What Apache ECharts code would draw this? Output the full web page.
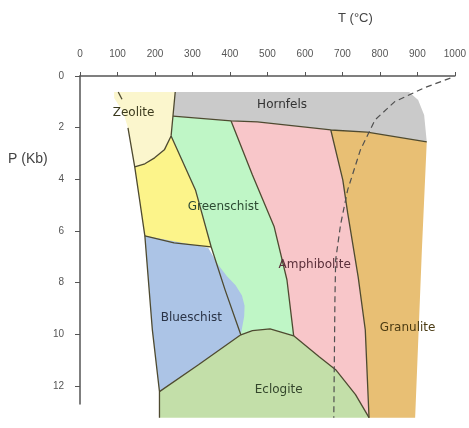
<!DOCTYPE html>
<html>
<head>
<meta charset="utf-8">
<script src="https://cdn.jsdelivr.net/npm/echarts@6/dist/echarts.min.js"></script>
<style>
  html, body { margin: 0; padding: 0; background: #fff; }
  #chart { width: 469px; height: 428px; }
</style>
</head>
<body>
<div id="chart"></div>
<script>
// axis ticks
const tTicks = [0, 100, 200, 300, 400, 500, 600, 700, 800, 900, 1000];
const pTicks = [0, 2, 4, 6, 8, 10, 12];

// facies fields, [T (°C), P (Kb)]
const zeolite = [[91, 0.62], [254, 0.62], [248, 1.55], [243, 2.32], [225, 2.86], [199, 3.17], [173, 3.4], [146, 3.52], [128, 2.01], [115, 1.39], [91, 0.85]];
const hornfels = [[254, 0.62], [878, 0.62], [902, 0.93], [918, 1.51], [925, 2.55], [766, 2.17], [669, 2.09], [473, 1.78], [403, 1.74], [248, 1.55]];
const prehnite = [[243, 2.32], [308, 4.41], [350, 6.62], [342, 6.65], [251, 6.46], [173, 6.19], [159, 4.8], [146, 3.52], [173, 3.4], [199, 3.17], [225, 2.86]];
const greenschist = [[248, 1.55], [403, 1.74], [460, 3.83], [518, 5.84], [552, 7.89], [570, 10.06], [507, 9.79], [460, 9.86], [429, 10.02], [387, 8.28], [350, 6.62], [308, 4.41], [243, 2.32]];
const blueschist = [[173, 6.19], [342, 6.65], [352, 6.9], [368, 7.3], [392, 7.75], [415, 8.1], [432, 8.5], [439, 8.9], [438, 9.3], [433, 9.7], [429, 10.02], [316, 11.18], [212, 12.22], [193, 9.83]];
const amphibolite = [[403, 1.74], [473, 1.78], [669, 2.09], [701, 4.02], [714, 5.3], [742, 7.78], [761, 9.83], [771, 13.23], [735, 12.34], [682, 11.37], [638, 10.87], [570, 10.06], [552, 7.89], [518, 5.84], [460, 3.83]];
const granulite = [[669, 2.09], [766, 2.17], [925, 2.55], [912, 6.73], [894, 13.23], [771, 13.23], [761, 9.83], [742, 7.78], [714, 5.3], [701, 4.02]];
const eclogite = [[212, 12.22], [316, 11.18], [429, 10.02], [460, 9.86], [507, 9.79], [570, 10.06], [638, 10.87], [682, 11.37], [735, 12.34], [771, 13.23], [212, 13.23]];

// boundary lines
const westLine = [[128, 2.01], [146, 3.52], [159, 4.8], [173, 6.19], [193, 9.83], [212, 12.22], [212, 13.23]];
const zeoTick = [[102, 0.62], [112, 0.9]];
const zeoArc = [[146, 3.52], [173, 3.4], [199, 3.17], [225, 2.86], [243, 2.32]];
const hornfelsWest = [[254, 0.62], [248, 1.55], [243, 2.32]];
const hornfelsBase = [[248, 1.55], [403, 1.74], [473, 1.78], [669, 2.09], [766, 2.17], [925, 2.55]];
const greenYellow = [[243, 2.32], [308, 4.41], [350, 6.62], [387, 8.28], [429, 10.02]];
const yellowBlue = [[173, 6.19], [251, 6.46], [350, 6.62]];
const blueEclogite = [[212, 12.22], [316, 11.18], [429, 10.02]];
const eclogiteArc = [[429, 10.02], [460, 9.86], [507, 9.79], [570, 10.06], [638, 10.87], [682, 11.37], [735, 12.34], [771, 13.23]];
const greenPink = [[403, 1.74], [460, 3.83], [518, 5.84], [552, 7.89], [570, 10.06]];
const pinkGranulite = [[669, 2.09], [701, 4.02], [714, 5.3], [742, 7.78], [761, 9.83], [771, 13.23]];
const wetSolidus = [[988, 0.08], [918, 0.46], [839, 1.0], [787, 1.7], [748, 2.86], [714, 4.41], [695, 5.76], [682, 7.12], [680, 8.67], [677, 13.23]];

// field names
const faciesNames = ['Zeolite', 'Hornfels', 'Greenschist', 'Blueschist', 'Amphibolite', 'Granulite', 'Eclogite'];
const labelPos = [[143, 1.43], [539, 1.12], [382, 5.07], [297, 9.36], [626, 7.31], [874, 9.75], [530, 12.15]];
const labelColors = ['#3b3a1e', '#333333', '#2c4a32', '#2a3346', '#5a2f3a', '#4a3a12', '#34462c'];

const chart = echarts.init(document.getElementById('chart'));

const fields = [
  { pts: zeolite, color: '#fbf6cd' },
  { pts: hornfels, color: '#cacaca' },
  { pts: prehnite, color: '#fcf48a' },
  { pts: greenschist, color: '#bff6c6' },
  { pts: blueschist, color: '#acc4e6' },
  { pts: amphibolite, color: '#f8c6c9' },
  { pts: granulite, color: '#e8bf74' },
  { pts: eclogite, color: '#c3dfa9' }
];

const lineColor = '#4e4a30';
const solidLines = [westLine, zeoTick, zeoArc, hornfelsWest, hornfelsBase, greenYellow, yellowBlue,
  blueEclogite, eclogiteArc, greenPink, pinkGranulite];

const series = [];

series.push({
  type: 'custom',
  clip: false,
  silent: true,
  z: 1,
  data: fields.map((f, i) => i),
  renderItem: (params, api) => {
    const f = fields[params.dataIndex];
    return {
      type: 'polygon',
      shape: { points: f.pts.map(p => api.coord(p)) },
      style: { fill: f.color, stroke: null }
    };
  }
});

solidLines.forEach(l => {
  series.push({
    type: 'line',
    data: l,
    clip: false,
    silent: true,
    symbol: 'none',
    z: 3,
    lineStyle: { color: lineColor, width: 1.3 }
  });
});

series.push({
  type: 'line',
  data: wetSolidus,
  clip: false,
  silent: true,
  symbol: 'none',
  z: 3,
  lineStyle: { color: '#505050', width: 1.2, type: [6, 4] }
});

series.push({
  type: 'custom',
  clip: false,
  silent: true,
  z: 4,
  data: labelPos.map((p, i) => [p[0], p[1], i]),
  renderItem: (params, api) => {
    const c = api.coord([api.value(0), api.value(1)]);
    return {
      type: 'text',
      x: c[0],
      y: c[1],
      style: {
        text: faciesNames[params.dataIndex],
        align: 'center',
        verticalAlign: 'middle',
        fill: labelColors[params.dataIndex],
        font: '12px "DejaVu Sans", sans-serif'
      }
    };
  }
});

const option = {
  animation: false,
  grid: { left: 80, right: 7, top: 76, bottom: 24 },
  xAxis: {
    type: 'value',
    position: 'top',
    min: 0,
    max: 1000,
    interval: 100,
    axisLine: { show: true, lineStyle: { color: '#555', width: 1.5 } },
    axisTick: { show: true, length: 4, customValues: tTicks, lineStyle: { color: '#555' } },
    axisLabel: {
      color: '#555', fontSize: 10, margin: 17, customValues: tTicks,
      fontFamily: 'Liberation Sans', formatter: v => String(v)
    },
    splitLine: { show: false }
  },
  yAxis: {
    type: 'value',
    inverse: true,
    min: 0,
    max: 12.7,
    axisLine: { show: true, lineStyle: { color: '#555', width: 1.5 } },
    axisTick: { show: true, length: 5, customValues: pTicks, lineStyle: { color: '#555' } },
    axisLabel: { color: '#555', fontSize: 10, margin: 16, customValues: pTicks, fontFamily: 'Liberation Sans' },
    splitLine: { show: false }
  },
  graphic: [
    { type: 'text', left: 338, top: 12, style: { text: 'T (°C)', fill: '#444', font: '13px "Liberation Sans"' } },
    { type: 'text', left: 8, top: 152, style: { text: 'P (Kb)', fill: '#444', font: '14px "Liberation Sans"' } }
  ],
  series: series
};

chart.setOption(option);
</script>
</body>
</html>
